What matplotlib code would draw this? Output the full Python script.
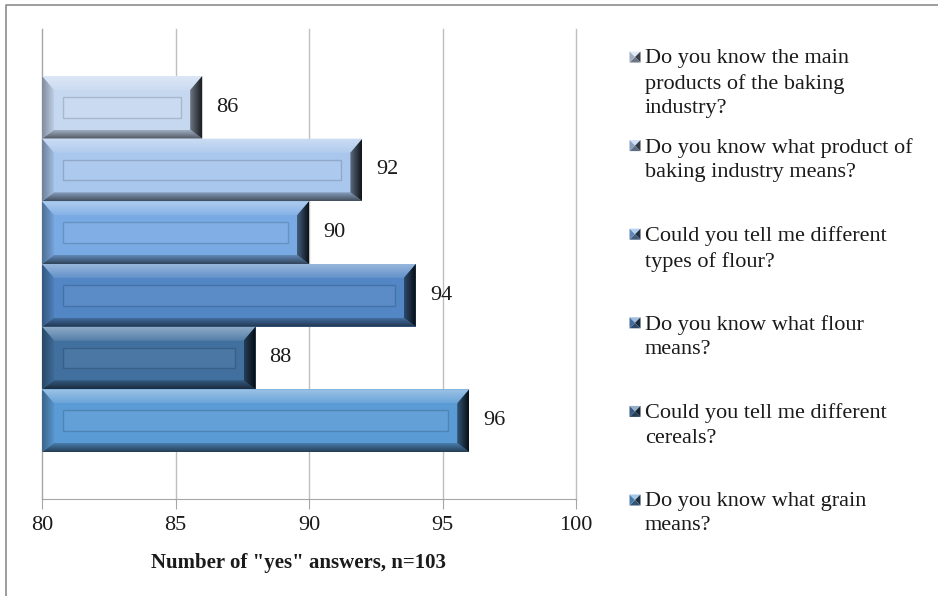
import numpy as np
import matplotlib.pyplot as plt
from matplotlib.patches import Polygon, Rectangle
from matplotlib.colors import to_rgb

# survey questions, listed top to bottom as they appear in the chart
questions = [
    "Do you know the main\nproducts of the baking\nindustry?",
    "Do you know what product of\nbaking industry means?",
    "Could you tell me different\ntypes of flour?",
    "Do you know what flour\nmeans?",
    "Could you tell me different\ncereals?",
    "Do you know what grain\nmeans?",
]
yes_counts = [86, 92, 90, 94, 88, 96]
bar_colors = ['#c6d8f0', '#a9c6ec', '#79aae4', '#5286c4', '#41709f', '#5b9bd5']
x_ticks = [80, 85, 90, 95, 100]
x_label = 'Number of "yes" answers, n=103'

plt.rcParams['font.family'] = ['Liberation Serif', 'DejaVu Serif']

W, H = 938, 596
fig = plt.figure(figsize=(W / 100, H / 100), dpi=100)
ax = fig.add_axes([42 / W, 97 / H, 534 / W, 470 / H])
xlim = (80, 100)
ylim = (-1.25, 6.25)
ax.set_xlim(*xlim)
ax.set_ylim(*ylim)

# size of one pixel in data units
px = (xlim[1] - xlim[0]) / 534
py = (ylim[1] - ylim[0]) / 470


def mix(c, other, t):
    c = np.array(to_rgb(c))
    o = np.array(to_rgb(other))
    return tuple(c * (1 - t) + o * t)


def shade(verts, c_from, c_to, vertical):
    # linear gradient clipped to a polygon
    verts = np.array(verts)
    x0, x1 = verts[:, 0].min(), verts[:, 0].max()
    y0, y1 = verts[:, 1].min(), verts[:, 1].max()
    t = np.linspace(0, 1, 32)
    a = np.array(c_from)
    b = np.array(c_to)
    cols = a[None, :] * (1 - t[:, None]) + b[None, :] * t[:, None]
    img = cols[:, None, :] if vertical else cols[None, :, :]
    im = ax.imshow(img, extent=(x0, x1, y0, y1), origin='lower', aspect='auto',
                   interpolation='bilinear', zorder=3)
    clip = Polygon(verts, closed=True, transform=ax.transData)
    im.set_clip_path(clip)


positions = np.arange(len(questions))[::-1]
bars = ax.barh(positions, [v - 80 for v in yes_counts], left=80, height=1,
               color=bar_colors, zorder=2)

for bar, c, v in zip(bars, bar_colors, yes_counts):
    x0, y0 = bar.get_x(), bar.get_y()
    x1, y1 = x0 + bar.get_width(), y0 + bar.get_height()
    bx, by_top, by_bot = 12 * px, 14 * py, 9 * py
    ix0, ix1 = x0 + bx, x1 - bx
    iy0, iy1 = y0 + by_bot, y1 - by_top
    # top bevel (light), bottom bevel (dark), left and right sides
    shade([(x0, y1), (x1, y1), (ix1, iy1), (ix0, iy1)],
          mix(c, 'white', 0.1), mix(c, 'white', 0.4), vertical=True)
    shade([(x0, y0), (x1, y0), (ix1, iy0), (ix0, iy0)],
          mix(c, 'black', 0.6), mix(c, 'black', 0.2), vertical=True)
    shade([(x0, y0), (ix0, iy0), (ix0, iy1), (x0, y1)],
          mix(c, 'black', 0.35), mix(c, 'black', 0.05), vertical=False)
    shade([(x1, y0), (ix1, iy0), (ix1, iy1), (x1, y1)],
          mix(c, 'black', 0.45), mix(c, 'black', 0.9), vertical=False)
    # inner embossed panel
    ax.add_patch(Rectangle((x0 + 21 * px, y0 + 21 * py),
                           (x1 - x0) - 42 * px, (y1 - y0) - 42 * py,
                           facecolor=mix(c, 'white', 0.05),
                           edgecolor=mix(c, 'black', 0.15), lw=1.0, zorder=4))
    ax.annotate(str(v), xy=(x1, (y0 + y1) / 2), xytext=(14, 0),
                textcoords='offset pixels', ha='left', va='center',
                fontsize=16, color='#1a1a1a', zorder=5)

ax.set_xlim(*xlim)
ax.set_ylim(*ylim)
ax.set_xticks(x_ticks)
ax.set_yticks([])
ax.xaxis.grid(True, color='#bfbfbf', lw=1)
for gl in ax.get_xgridlines():
    gl.set_clip_on(False)
ax.set_axisbelow(True)
for side in ['top', 'right']:
    ax.spines[side].set_visible(False)
ax.spines['left'].set_color('#a6a6a6')
ax.spines['bottom'].set_color('#a6a6a6')
ax.tick_params(axis='x', direction='out', length=7, color='#a6a6a6',
               labelsize=16, pad=5, labelcolor='#1a1a1a')
ax.set_xlabel(x_label, fontsize=15, fontweight='bold', labelpad=11,
              color='#1a1a1a')
ax.xaxis.set_label_coords(0.48, -0.115)

# overlay in pixel coordinates: chart border and the legend
ov = fig.add_axes([0, 0, 1, 1], zorder=-1)
ov.set_xlim(0, W)
ov.set_ylim(H, 0)
ov.axis('off')
ov.plot([6, 6, W], [H, 5, 5], color='#8c8c8c', lw=1.2)

slot = 88.6
for i, (q, c) in enumerate(zip(questions, bar_colors)):
    yc = 57 + i * slot
    mx, s = 635, 5.5
    ctr = (mx, yc)
    corners = [(mx - s, yc - s), (mx + s, yc - s), (mx + s, yc + s), (mx - s, yc + s)]
    tones = [mix(c, 'white', 0.45), mix(c, 'black', 0.7),
             mix(c, 'black', 0.45), mix(c, 'black', 0.2)]
    for k in range(4):
        ov.add_patch(Polygon([corners[k], corners[(k + 1) % 4], ctr],
                             closed=True, facecolor=tones[k], edgecolor='none'))
    ov.text(645, yc - 8, q, ha='left', va='top', fontsize=16,
            linespacing=1.38, color='#1a1a1a')

fig.savefig('out.png', dpi=100)
